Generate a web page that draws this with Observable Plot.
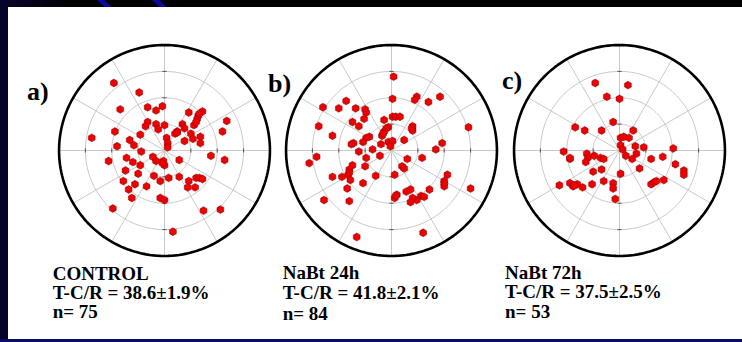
<!DOCTYPE html>
<html><head><meta charset="utf-8">
<script src="https://cdn.jsdelivr.net/npm/d3@7"></script>
<script src="https://cdn.jsdelivr.net/npm/@observablehq/plot@0.6"></script>
<style>
html,body{margin:0;padding:0;background:#000;}
#frame{position:relative;width:742px;height:342px;overflow:hidden;background:linear-gradient(to right,#06062e 0px,#000 70px);}
#left{position:absolute;left:0;top:0;width:8px;height:342px;background:#05052c;}
#bottom{position:absolute;left:0;top:339px;width:742px;height:3px;background:#0b0b66;}
#panel{position:absolute;left:8px;top:7px;width:734px;height:332px;background:#fff;}
.stripe{position:absolute;top:0;height:7px;width:7px;background:#0a0aa6;transform:skewX(48deg);transform-origin:top left;}
.plot{position:absolute;top:34px;}
.lbl{position:absolute;font-family:"Liberation Serif","Times New Roman",serif;font-weight:bold;color:#000;white-space:nowrap;}
.letter{font-size:26px;line-height:26px;}
.info{font-size:19px;}
</style></head>
<body><div id="frame">
<div class="stripe" style="left:97px"></div>
<div class="stripe" style="left:152px"></div>
<div id="left"></div>
<div id="panel"></div>
<div id="bottom"></div>
</div>
<script>
// ---- data (normalized to the outer ring radius = 1) ----
const controlPts = [
[-0.48,0.64],[-0.24,0.55],[-0.42,0.39],[-0.16,0.41],[-0.08,0.38],[-0.02,0.42],[0.23,0.36],[0.36,0.37],
[0.32,0.33],[0.31,0.30],[0.28,0.24],[0.30,0.27],[0.59,0.28],[0.55,0.18],[-0.16,0.27],[-0.18,0.23],
[-0.08,0.25],[-0.06,0.20],[0.00,0.24],[0.17,0.25],[0.19,0.21],[0.12,0.18],[0.10,0.16],[0.25,0.16],
[0.27,0.11],[0.34,0.13],[0.34,0.07],[0.19,0.09],[-0.47,0.18],[-0.69,0.12],[-0.23,0.15],[-0.33,0.10],
[-0.29,0.05],[-0.45,0.04],[0.02,0.12],[0.03,0.07],[0.03,0.03],[-0.22,-0.01],[0.44,-0.05],[0.57,-0.09],
[-0.53,-0.10],[-0.36,-0.07],[-0.30,-0.11],[-0.11,-0.06],[-0.08,-0.10],[-0.01,-0.10],[0.00,-0.14],[0.14,-0.09],
[-0.23,-0.14],[-0.37,-0.19],[-0.25,-0.22],[-0.10,-0.24],[-0.04,-0.29],[0.04,-0.26],[0.14,-0.25],[0.23,-0.29],
[0.30,-0.26],[0.33,-0.26],[0.36,-0.27],[0.22,-0.35],[0.29,-0.35],[-0.39,-0.29],[-0.28,-0.32],[-0.17,-0.34],
[-0.34,-0.37],[-0.31,-0.45],[-0.04,-0.45],[0.00,-0.47],[-0.49,-0.55],[0.37,-0.57],[0.53,-0.56],[0.08,-0.77],
[0.33,0.35],[0.12,0.17],[-0.02,-0.12]
];
const nabt24Pts = [
[0.02,0.70],[0.01,0.49],[0.24,0.51],[0.22,0.48],[0.35,0.46],[0.46,0.51],[-0.65,0.41],[-0.50,0.40],
[-0.43,0.47],[-0.34,0.40],[-0.25,0.39],[-0.24,0.36],[-0.26,0.30],[-0.37,0.27],[-0.31,0.23],[-0.69,0.23],
[-0.56,0.14],[-0.07,0.29],[0.01,0.32],[0.04,0.32],[0.08,0.32],[-0.03,0.22],[-0.05,0.21],[-0.07,0.18],
[-0.09,0.14],[0.20,0.23],[0.20,0.19],[0.73,0.22],[-0.21,0.13],[-0.24,0.12],[-0.27,0.08],[-0.36,0.07],
[-0.38,0.06],[-0.31,-0.01],[-0.18,0.01],[-0.10,0.06],[-0.03,0.08],[0.01,0.09],[-0.01,0.04],[0.12,0.10],
[0.48,0.07],[0.42,0.01],[-0.71,-0.06],[-0.78,-0.12],[-0.24,-0.07],[-0.11,-0.05],[0.15,-0.08],[0.29,-0.07],
[-0.37,-0.14],[-0.40,-0.18],[-0.41,-0.23],[-0.39,-0.28],[-0.47,-0.25],[-0.56,-0.25],[-0.25,-0.15],[-0.15,-0.24],
[0.03,-0.23],[0.10,-0.15],[0.12,-0.17],[-0.27,-0.31],[-0.42,-0.36],[-0.64,-0.47],[-0.40,-0.48],[0.53,-0.23],
[0.50,-0.29],[0.50,-0.34],[0.75,-0.36],[0.36,-0.37],[0.28,-0.43],[0.31,-0.44],[0.18,-0.37],[0.14,-0.39],
[0.24,-0.47],[0.20,-0.45],[0.18,-0.49],[0.05,-0.42],[0.03,-0.45],[-0.33,-0.82],[0.30,-0.78],
[0.50,-0.31],[-0.08,0.16],[0.19,0.21],[-0.40,-0.21],[0.04,-0.43]
];
const nabt72Pts = [
[-0.23,0.64],[0.08,0.62],[-0.12,0.51],[0.00,0.49],[-0.06,0.27],[-0.42,0.22],[-0.33,0.19],[-0.17,0.19],
[0.13,0.19],[0.01,0.12],[0.04,0.13],[0.09,0.12],[0.01,0.05],[0.03,0.01],[0.15,0.04],[0.23,0.03],
[0.51,0.02],[-0.53,-0.01],[-0.47,-0.08],[-0.47,-0.07],[-0.31,-0.03],[-0.30,-0.07],[-0.24,-0.05],[-0.18,-0.07],
[-0.15,-0.08],[-0.32,-0.11],[0.06,-0.05],[0.16,-0.03],[0.12,-0.08],[0.30,-0.08],[0.41,-0.06],[0.53,-0.13],
[-0.17,-0.18],[-0.25,-0.20],[0.19,-0.17],[0.01,-0.22],[0.61,-0.19],[0.61,-0.23],[-0.57,-0.33],[-0.47,-0.31],
[-0.44,-0.34],[-0.40,-0.32],[-0.35,-0.35],[-0.26,-0.32],[-0.15,-0.29],[-0.06,-0.31],[-0.06,-0.36],[-0.04,-0.46],
[0.30,-0.32],[0.33,-0.30],[0.35,-0.29],[0.42,-0.28],[-0.43,-0.33]
];
const panelLetters = ["a)", "b)", "c)"];
const groupNames = ["CONTROL", "NaBt 24h", "NaBt 72h"];
const tcrValues = ["38.6±1.9%", "41.8±2.1%", "37.5±2.5%"];
const nValues = [75, 84, 53];
const ringLevels = [0.25, 0.5, 0.75];
const spokeAngles = d3.range(0, 360, 30);

// ---- layout ----
const S = 232, D = 1.1;
const panelLeft = [48, 275, 503];
const letterPos = [[27, 79], [268, 70.5], [502, 67.5]];
const infoLeft = [52.7, 282.7, 505];
const infoTop = [264, 262.6, 262.5];
const infoLineHeight = [19, 20.85, 19.85];

const rad = a => a * Math.PI / 180;
function polarPanel(pts) {
  const circ = d3.range(0, 361, 2);
  const ringPts = ringLevels.flatMap(r => circ.map(a => ({r, a})));
  const outerPts = circ.map(a => ({r: 1, a}));
  const tickPts = ringLevels.flatMap(r => [0, 90, 180, 270].map(a => ({r, a})));
  const tl = 0.02;
  return Plot.plot({
    width: S, height: S, margin: 0,
    style: {background: "transparent", overflow: "visible"},
    x: {domain: [-D, D], axis: null},
    y: {domain: [-D, D], axis: null},
    marks: [
      Plot.line(ringPts, {x: d => d.r * Math.cos(rad(d.a)), y: d => d.r * Math.sin(rad(d.a)), z: "r", stroke: "#c9c9c9", strokeWidth: 1}),
      Plot.link(spokeAngles, {x1: () => 0, y1: () => 0, x2: a => Math.cos(rad(a)), y2: a => Math.sin(rad(a)), stroke: "#c9c9c9", strokeWidth: 1}),
      Plot.link(tickPts, {
        x1: d => d.r * Math.cos(rad(d.a)) - tl * Math.sin(rad(d.a)),
        y1: d => d.r * Math.sin(rad(d.a)) - tl * Math.cos(rad(d.a)),
        x2: d => d.r * Math.cos(rad(d.a)) + tl * Math.sin(rad(d.a)),
        y2: d => d.r * Math.sin(rad(d.a)) + tl * Math.cos(rad(d.a)),
        stroke: "#555", strokeWidth: 1}),
      Plot.line(outerPts, {x: d => Math.cos(rad(d.a)), y: d => Math.sin(rad(d.a)), stroke: "#000", strokeWidth: 2.6}),
      Plot.dot(pts, {x: d => d[0], y: d => d[1], symbol: "hexagon", r: 3.4, fill: "#ee0000", stroke: "#8a0000", strokeWidth: 0.5})
    ]
  });
}

const frame = document.getElementById("frame");
[controlPts, nabt24Pts, nabt72Pts].forEach((pts, i) => {
  const svg = polarPanel(pts);
  svg.classList.add("plot");
  svg.style.left = panelLeft[i] + "px";
  frame.appendChild(svg);

  const L = document.createElement("div");
  L.className = "lbl letter";
  L.textContent = panelLetters[i];
  L.style.left = letterPos[i][0] + "px";
  L.style.top = letterPos[i][1] + "px";
  frame.appendChild(L);

  const e = document.createElement("div");
  e.className = "lbl info";
  e.style.left = infoLeft[i] + "px";
  e.style.top = infoTop[i] + "px";
  e.style.lineHeight = infoLineHeight[i] + "px";
  e.innerText = [groupNames[i], "T-C/R = " + tcrValues[i], "n= " + nValues[i]].join("\n");
  frame.appendChild(e);
});
</script>
</body></html>
